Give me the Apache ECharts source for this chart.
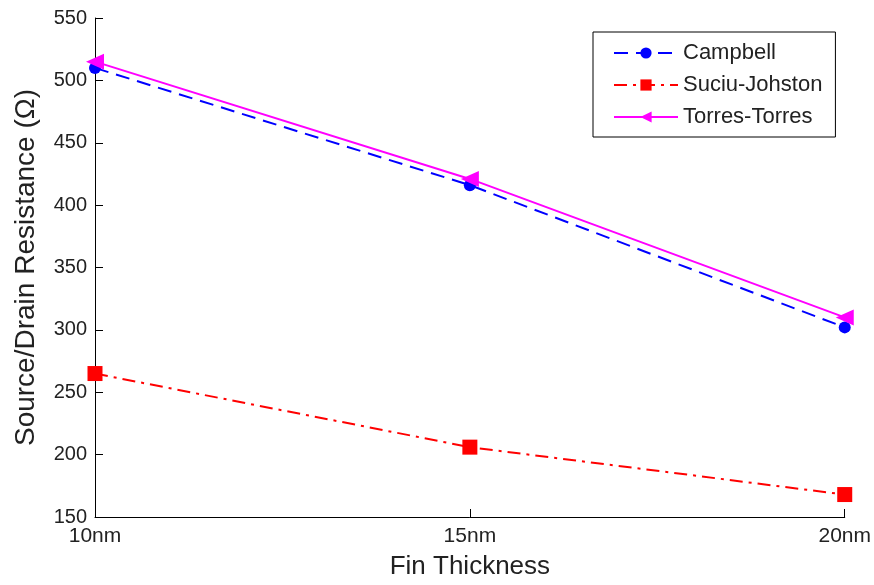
<!DOCTYPE html>
<html><head><meta charset="utf-8">
<script src="https://cdn.jsdelivr.net/npm/echarts@6/dist/echarts.min.js"></script>
<style>html,body{margin:0;padding:0;background:#fff}#c{width:874px;height:585px}</style>
</head><body><div id="c"></div>
<script>
var categories = ['10nm', '15nm', '20nm'];
var campbell = [510, 416, 302];
var suciu = [265, 206, 168];
var torres = [515, 421, 310];
var yTicks = {min: 150, max: 550, interval: 50};

var font = '"Liberation Sans", Arial, sans-serif';
var chart = echarts.init(document.getElementById('c'), null, {renderer: 'canvas'});
chart.setOption({
  animation: false,
  backgroundColor: '#fff',
  grid: {left: 95, right: 28, top: 18, bottom: 68},
  legend: {
    orient: 'vertical', left: 593, top: 32,
    padding: [10, 13, 9, 20], itemWidth: 64, itemHeight: 14, itemGap: 10,
    borderColor: '#000', borderWidth: 1, backgroundColor: '#fff',
    textStyle: {fontFamily: font, fontSize: 22, color: '#222'},
    data: ['Campbell', 'Suciu-Johston', 'Torres-Torres']
  },
  xAxis: {
    type: 'category', data: categories, boundaryGap: false,
    name: 'Fin Thickness', nameLocation: 'middle', nameGap: 37,
    nameTextStyle: {fontFamily: font, fontSize: 26, color: '#222'},
    axisLine: {lineStyle: {color: '#000', width: 1}},
    axisTick: {inside: true, length: 8, alignWithLabel: true, lineStyle: {color: '#000'}},
    axisLabel: {fontFamily: font, fontSize: 21, color: '#222', margin: 9},
    splitLine: {show: false}
  },
  yAxis: {
    type: 'value', min: yTicks.min, max: yTicks.max, interval: yTicks.interval,
    name: 'Source/Drain Resistance (\u03A9)', nameLocation: 'middle', nameGap: 55,
    nameTextStyle: {fontFamily: font, fontSize: 28, color: '#222'},
    axisLine: {show: true, lineStyle: {color: '#000', width: 1}},
    axisTick: {show: true, inside: true, length: 8, lineStyle: {color: '#000'}},
    axisLabel: {fontFamily: font, fontSize: 20, color: '#222', margin: 8},
    splitLine: {show: false}
  },
  series: [
    {name: 'Campbell', type: 'line', data: campbell, color: '#0000ff',
     symbol: 'circle', symbolSize: 12, z: 3,
     lineStyle: {width: 2, type: [14, 8], color: '#0000ff'},
     itemStyle: {color: '#0000ff'}},
    {name: 'Suciu-Johston', type: 'line', data: suciu, color: '#ff0000',
     symbol: 'rect', symbolSize: 15, z: 3,
     lineStyle: {width: 2, type: [13, 6, 3, 6], color: '#ff0000'},
     itemStyle: {color: '#ff0000'}},
    {name: 'Torres-Torres', type: 'line', data: torres, color: '#ff00ff',
     symbol: 'triangle', symbolSize: [16, 18], symbolRotate: 90, z: 4,
     lineStyle: {width: 2, type: 'solid', color: '#ff00ff'},
     itemStyle: {color: '#ff00ff'}}
  ]
});
</script>
</body></html>
